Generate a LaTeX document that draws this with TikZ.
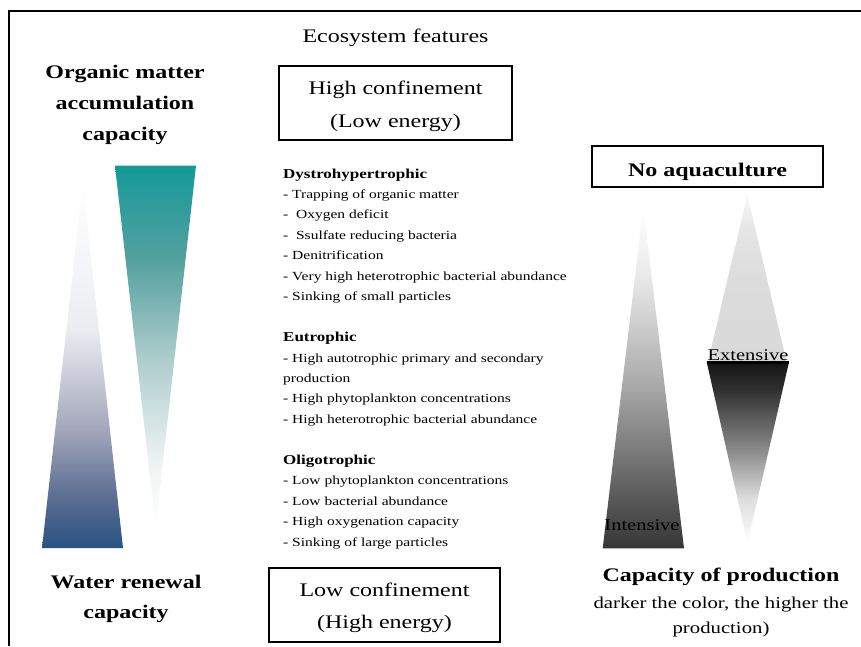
\documentclass[tikz,border=0pt]{standalone}
\usepackage{fontspec}
\setmainfont[FakeStretch=1.25]{Liberation Serif}
\definecolor{blueA}{HTML}{2A5280}
\definecolor{blueB}{HTML}{5F7094}
\definecolor{blueC}{HTML}{A5A8BC}
\definecolor{blueD}{HTML}{EBEDF2}
\definecolor{tealA}{HTML}{149999}
\definecolor{tealB}{HTML}{55A0A0}
\definecolor{tealC}{HTML}{AFCDCD}
\definecolor{tealD}{HTML}{EBF2F2}
\definecolor{grA}{HTML}{363636}
\definecolor{grB}{HTML}{AEAEAE}
\definecolor{grC}{HTML}{EAEAEA}
\definecolor{exA}{HTML}{141414}
\definecolor{exB}{HTML}{303030}
\definecolor{exC}{HTML}{8E8E8E}
\definecolor{exD}{HTML}{DCDCDC}
\definecolor{upA}{HTML}{D9D9D9}
\definecolor{upB}{HTML}{DCDCDC}
\definecolor{upC}{HTML}{E6E6E6}
\definecolor{upD}{HTML}{F8F8F8}
% shadings: 25bp = bottom of path, 75bp = top of path
\pgfdeclareverticalshading{blueup}{100bp}{color(0bp)=(blueA); color(25bp)=(blueA); color(32.5bp)=(blueB); color(41.5bp)=(blueC); color(55bp)=(blueD); color(75bp)=(white); color(100bp)=(white)}
\pgfdeclareverticalshading{tealdown}{100bp}{color(0bp)=(white); color(25bp)=(white); color(34.5bp)=(tealD); color(48bp)=(tealC); color(62bp)=(tealB); color(75bp)=(tealA); color(100bp)=(tealA)}
\pgfdeclareverticalshading{intshade}{100bp}{color(0bp)=(grA); color(25bp)=(grA); color(50bp)=(grB); color(65bp)=(grC); color(75bp)=(white); color(100bp)=(white)}
\pgfdeclareverticalshading{exlow}{100bp}{color(0bp)=(white); color(25bp)=(white); color(37.5bp)=(exD); color(50bp)=(exC); color(67.5bp)=(exB); color(75bp)=(exA); color(100bp)=(exA)}
\pgfdeclareverticalshading{exup}{100bp}{color(0bp)=(upA); color(25bp)=(upA); color(50bp)=(upB); color(65bp)=(upC); color(75bp)=(upD); color(100bp)=(upD)}
\tikzset{
  txt/.style={inner sep=0pt, anchor=base},
  big/.style={font=\fontsize{19.2}{23}\selectfont},
  bigb/.style={font=\fontsize{19.2}{23}\selectfont\bfseries},
  small/.style={font=\fontsize{16.4}{20}\selectfont},
  item/.style={inner sep=0pt, anchor=base west, font=\fontsize{12.4}{15}\selectfont},
  head/.style={inner sep=0pt, anchor=base west, font=\fontsize{13.6}{16}\selectfont\bfseries},
  framebox/.style={draw, line width=2.5pt, inner sep=0pt, align=center},
  frameline/.style={line width=2.5pt},
}
\begin{document}
\begin{tikzpicture}[x=1pt,y=-1pt]
\useasboundingbox (0,0) rectangle (861,646);
% outer frame
\draw[frameline] (9,646) -- (9,11) -- (861,11);
% title
\node[txt, big] (eco) at (395.5,42) {Ecosystem features};
% left headings
\node[txt, bigb] (om1) at (125,78) {Organic matter};
\node[txt, bigb] (om2) at (125,109.5) {accumulation};
\node[txt, bigb] (om3) at (125,140) {capacity};
\node[txt, bigb] (wr1) at (126,588) {Water renewal};
\node[txt, bigb] (wr2) at (126,618) {capacity};
% left triangles
\shade[shading=blueup] (42,548) -- (82.7,183) -- (123,548) -- cycle;
\shade[shading=tealdown] (115,165.7) -- (196,165.7) -- (155.7,527) -- cycle;
% boxes
\node[framebox, minimum width=233pt, minimum height=74pt, font=\fontsize{19.2}{32.5}\selectfont] (hc) at (395.5,103) {\rule{0pt}{20.3pt}High confinement\\(Low energy)};
\node[framebox, minimum width=231pt, minimum height=74pt, font=\fontsize{19.2}{32.5}\selectfont] (lc) at (384.5,605) {\rule{0pt}{19.5pt}Low confinement\\(High energy)};
\node[framebox, minimum width=231pt, minimum height=41pt, text height=19pt, text depth=0pt, font=\fontsize{19.2}{23}\selectfont\bfseries] (na) at (707.5,166.5) {No aquaculture};
% list
\node[head] (h1) at (283,178) {Dystrohypertrophic};
\node[item] (a1) at (283,198.5) {- Trapping of organic matter};
\node[item] (a2) at (283,218.9) {-\ \ Oxygen deficit};
\node[item] (a3) at (283,239.4) {-\ \ Ssulfate reducing bacteria};
\node[item] (a4) at (283,259.8) {- Denitrification};
\node[item] (a5) at (283,280.3) {- Very high heterotrophic bacterial abundance};
\node[item] (a6) at (283,300.7) {- Sinking of small particles};
\node[head] (h2) at (283,341.6) {Eutrophic};
\node[item] (b1) at (283,362) {- High autotrophic primary and secondary};
\node[item] (b2) at (283,382.5) {production};
\node[item] (b3) at (283,402.9) {- High phytoplankton concentrations};
\node[item] (b4) at (283,423.4) {- High heterotrophic bacterial abundance};
\node[head] (h3) at (283,464.3) {Oligotrophic};
\node[item] (c1) at (283,484.7) {- Low phytoplankton concentrations};
\node[item] (c2) at (283,505.2) {- Low bacterial abundance};
\node[item] (c3) at (283,525.6) {- High oxygenation capacity};
\node[item] (c4) at (283,546.1) {- Sinking of large particles};
% right triangles
\shade[shading=intshade] (602.7,548.3) -- (643.3,206.7) -- (684,548.3) -- cycle;
\shade[shading=exup] (708,362) -- (747.3,195) -- (786.7,362) -- cycle;
\shade[shading=exlow] (706.7,362) -- (789,362) -- (747.5,543) -- cycle;
\draw[line width=3pt] (706.7,362) -- (789,362);
\node[txt, small] (int) at (642,530.5) {Intensive};
\node[txt, small] (ext) at (748,360) {Extensive};
% bottom right
\node[txt, bigb] (cp1) at (721,581) {Capacity of production};
\node[txt, font=\fontsize{16.6}{20}\selectfont] (cp2) at (721,608) {darker the color, the higher the};
\node[txt, font=\fontsize{16.6}{20}\selectfont] (cp3) at (721,633) {production)};
\end{tikzpicture}
\end{document}
